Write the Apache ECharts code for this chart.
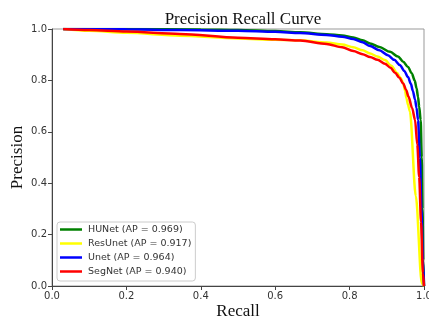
<!DOCTYPE html>
<html>
<head>
<meta charset="utf-8">
<script src="https://cdn.jsdelivr.net/npm/echarts@6/dist/echarts.min.js"></script>
<style>
html,body{margin:0;padding:0;background:#fff;}
#chart{width:429px;height:321px;}
</style>
</head>
<body>
<div id="chart"></div>
<script>
const seriesNames = ['HUNet', 'ResUnet', 'Unet', 'SegNet'];
const apValues = ['0.969', '0.917', '0.964', '0.940'];
const seriesColors = ['#008000', '#ffff00', '#0000ff', '#ff0000'];

const hunetRecall = [0.03,0.2,0.4,0.5,0.6,0.667,0.738,0.78,0.81,0.835,0.855,0.88,0.909,0.93,0.944,0.957,0.967,0.975,0.980,0.984,0.987,0.991,0.994,0.996,0.998,1.0];
const hunetPrec   = [1.0,1.0,0.998,0.996,0.992,0.987,0.98,0.975,0.967,0.956,0.944,0.93,0.911,0.893,0.873,0.852,0.828,0.8,0.769,0.735,0.698,0.646,0.5,0.3,0.1,0.0];

const resunetRecall = [0.03,0.1,0.2,0.344,0.5,0.6,0.667,0.738,0.78,0.81,0.835,0.855,0.875,0.895,0.912,0.927,0.937,0.944,0.949,0.953,0.957,0.962,0.978,0.994,1.0];
const resunetPrec   = [1.0,0.993,0.985,0.974,0.963,0.958,0.956,0.947,0.94,0.929,0.917,0.905,0.893,0.879,0.857,0.83,0.81,0.79,0.76,0.73,0.705,0.68,0.35,0.01,0.0];

const unetRecall = [0.03,0.2,0.344,0.5,0.6,0.667,0.738,0.78,0.81,0.835,0.855,0.88,0.903,0.92,0.935,0.947,0.957,0.965,0.970,0.976,0.980,0.984,0.989,0.993,0.997,1.0];
const unetPrec   = [1.0,0.999,0.996,0.993,0.989,0.984,0.977,0.97,0.961,0.948,0.934,0.917,0.898,0.88,0.86,0.837,0.813,0.786,0.759,0.725,0.693,0.646,0.5,0.3,0.1,0.0];

const segnetRecall = [0.03,0.1,0.2,0.344,0.5,0.6,0.667,0.738,0.78,0.81,0.835,0.855,0.875,0.895,0.91,0.922,0.934,0.944,0.952,0.958,0.968,0.976,0.982,0.987,0.992,0.997,1.0];
const segnetPrec   = [1.0,0.996,0.99,0.981,0.966,0.96,0.955,0.942,0.929,0.914,0.902,0.891,0.88,0.865,0.849,0.83,0.81,0.788,0.763,0.738,0.693,0.646,0.55,0.425,0.25,0.05,0.0];

const xTicks = [0, 0.2, 0.4, 0.6, 0.8, 1.0];
const yTicks = [0, 0.2, 0.4, 0.6, 0.8, 1.0];

const recalls = [hunetRecall, resunetRecall, unetRecall, segnetRecall];
const precs = [hunetPrec, resunetPrec, unetPrec, segnetPrec];

function pairs(r, p) { return r.map((v, i) => [v, p[i]]); }

const chart = echarts.init(document.getElementById('chart'), null, {renderer: 'canvas'});
const labelNames = seriesNames.map((n, i) => n + ' (AP = ' + apValues[i] + ')');

chart.setOption({
  animation: false,
  backgroundColor: '#fff',
  title: {
    text: 'Precision Recall Curve',
    left: 238, top: 6, textAlign: 'center',
    textStyle: {fontFamily: 'Liberation Serif', fontSize: 17, fontWeight: 'normal', color: '#111'}
  },
  grid: {left: 52, right: 5, top: 29, bottom: 35, containLabel: false, outerBoundsMode: 'none',
         show: true, borderColor: '#999', borderWidth: 1},
  legend: {
    orient: 'vertical', left: 57, top: 222,
    data: labelNames,
    icon: 'rect', itemWidth: 22, itemHeight: 2.5, itemGap: 1,
    padding: [1, 4, 3, 3],
    borderColor: '#ccc', borderWidth: 1, borderRadius: 3,
    backgroundColor: 'rgba(255,255,255,0.85)',
    textStyle: {fontFamily: 'DejaVu Sans', fontSize: 9.5, color: '#333', lineHeight: 13, padding: [0, 0, 0, 1]}
  },
  xAxis: {
    type: 'value', min: 0, max: 1, interval: 0.2,
    name: 'Recall', nameLocation: 'middle', nameGap: 17, nameMoveOverlap: false,
    nameTextStyle: {fontFamily: 'Liberation Serif', fontSize: 17, color: '#111'},
    axisLine: {show: true, lineStyle: {color: '#444', width: 1}},
    axisTick: {show: true, inside: false, length: 4, lineStyle: {color: '#444'}},
    axisLabel: {fontFamily: 'DejaVu Sans', fontSize: 10, color: '#333', margin: 5, hideOverlap: false,
      formatter: v => xTicks.includes(+v.toFixed(1)) ? v.toFixed(1) : ''},
    splitLine: {show: false}
  },
  yAxis: {
    type: 'value', min: 0, max: 1, interval: 0.2,
    name: 'Precision', nameLocation: 'middle', nameGap: 26, nameMoveOverlap: false,
    nameTextStyle: {fontFamily: 'Liberation Serif', fontSize: 17, color: '#111'},
    axisLine: {show: true, lineStyle: {color: '#444', width: 1}},
    axisTick: {show: true, inside: false, length: 4, lineStyle: {color: '#444'}},
    axisLabel: {fontFamily: 'DejaVu Sans', fontSize: 10, color: '#333', margin: 5,
      formatter: v => yTicks.includes(+v.toFixed(1)) ? v.toFixed(1) : ''},
    splitLine: {show: false}
  },
  series: labelNames.map((name, i) => ({
    name: name,
    type: 'line',
    data: pairs(recalls[i], precs[i]),
    showSymbol: false,
    symbol: 'none',
    smooth: 0.3,
    smoothMonotone: 'x',
    clip: true,
    color: seriesColors[i],
    lineStyle: {width: 2.5, color: seriesColors[i]}
  }))
});
</script>
</body>
</html>
